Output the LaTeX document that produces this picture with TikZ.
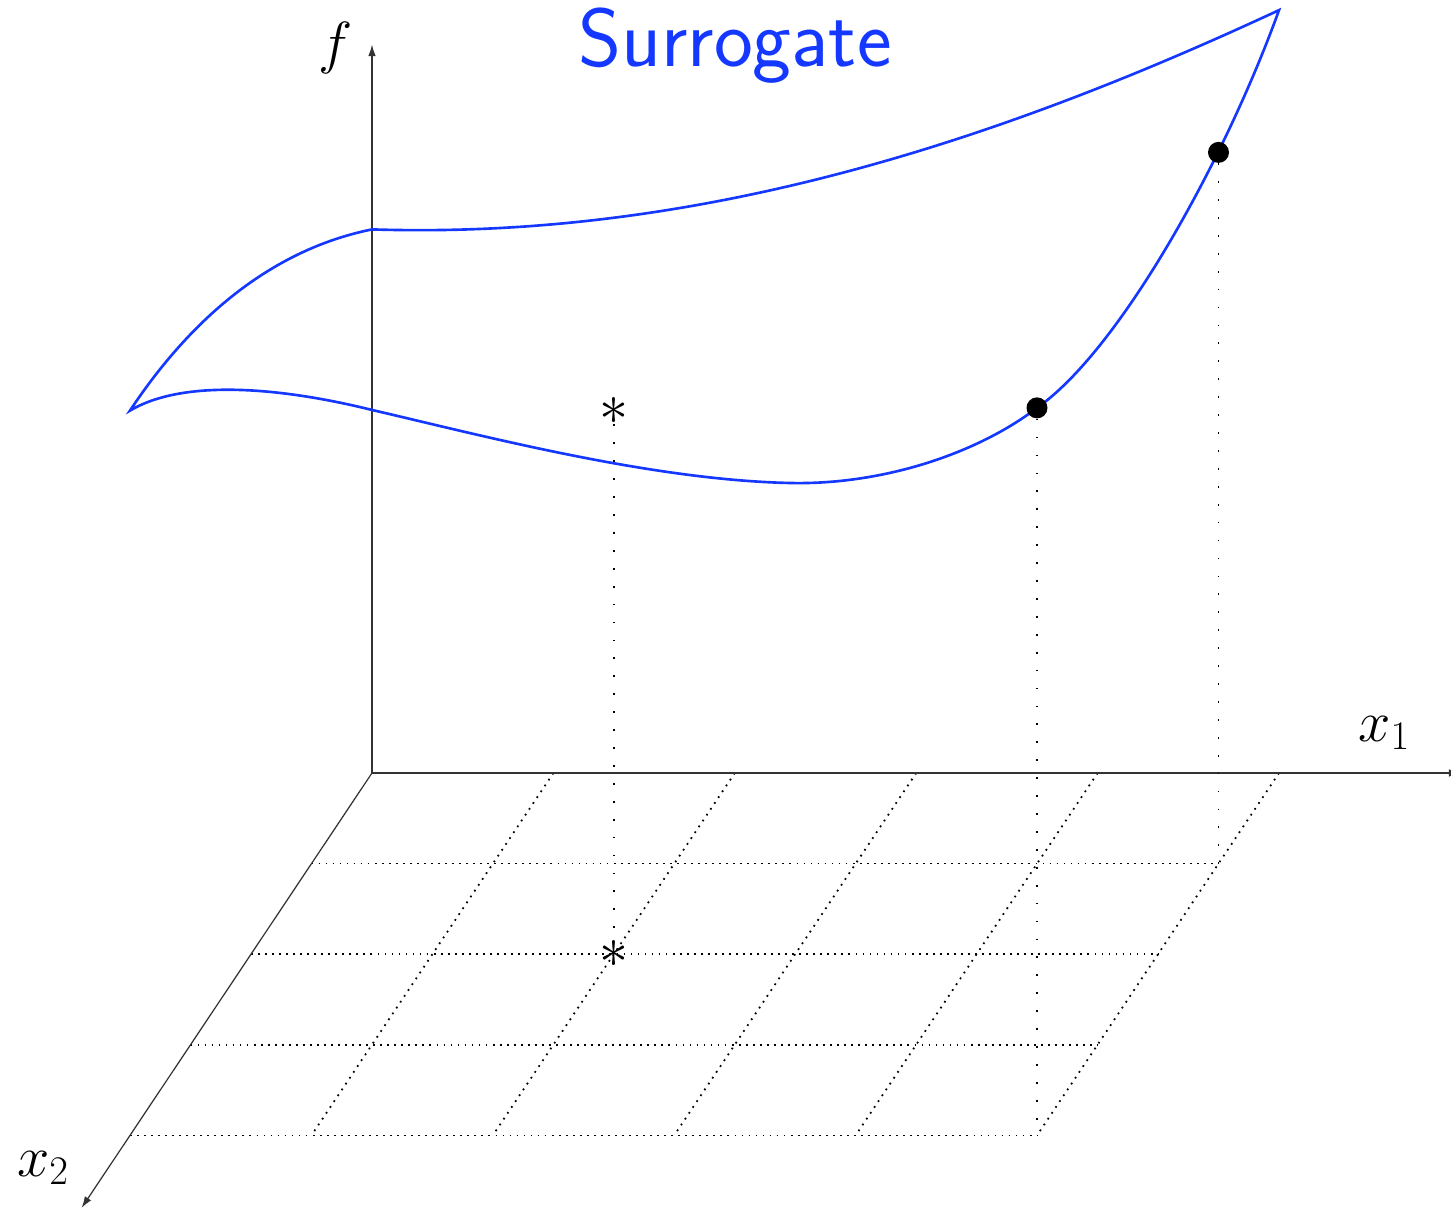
\documentclass[tikz,border=0pt]{standalone}
\usepackage{fix-cm}
\usepackage{amsmath,amssymb}
\usepackage{xcolor}
\usepackage{tikz}
\usetikzlibrary{arrows.meta}
\definecolor{surfc}{HTML}{1438FF}
\definecolor{axc}{HTML}{333333}
\tikzset{
  ax/.style={-{Latex[length=2.3mm,width=1.5mm]},line width=0.7pt,axc},
  gridln/.style={line width=1pt,dash pattern=on 1pt off 3pt},
  drop/.style={line width=1pt,dash pattern=on 1pt off 9.2pt},
  surf/.style={surfc,line width=1.5pt},
  lbl/.style={font=\fontsize{33}{40}\selectfont,inner sep=0pt},
  smp/.style={fill=black,circle,inner sep=0pt,minimum size=4.2mm}
}

\begin{document}
\begin{tikzpicture}[x={(3.628cm,0cm)},y={(-1.21cm,-1.812cm)},z={(0cm,1.812cm)}]
\useasboundingbox (-7.44cm,-8.72cm) rectangle (21.58cm,15.46cm);
% design grid
\foreach \j in {1,...,4} \draw[gridln] (0,\j,0) -- (5,\j,0);
\foreach \i in {1,...,5} \draw[gridln] (\i,0,0) -- (\i,4,0);
% axes
\coordinate (O) at (0,0,0);
\coordinate (x1end) at (6.0,0,0);
\coordinate (x2end) at (0,4.8,0);
\coordinate (fend) at (0,0,8.04);
\draw[ax] (O) -- (x1end);
\draw[ax] (O) -- (x2end);
\draw[ax] (O) -- (fend);
\node[lbl] (flab) at (-0.2,0,8.0) {$f$};
\node[lbl] (x1lab) at (5.58,0,0.44) {$x_1$};
\node[lbl] (x2lab) at (-0.36,4.36,0) {$x_2$};
% surrogate surface
\coordinate (s00) at (0,0,6);
\coordinate (s50) at (5,0,8.42);
\coordinate (s54) at (5,4,8.03);
\coordinate (s04) at (0,4,8);
\draw[surf] (s00) .. controls (1.808,0,5.883) and (3.462,0,6.987) .. (s50)
  .. controls (5,0.893,7.66) and (5,2.628,7.30) .. (s54)
  .. controls (4.658,4,7.509) and (4.134,4,7.178) .. (3.638,4,7.201)
  .. controls (2.867,4,7.234) and (1.929,4,7.731) .. (1.334,4,8.007)
  .. controls (0.937,4,8.205) and (0.331,4,8.393) .. (s04)
  .. controls (0,3.008,8.008) and (0,1.686,7.458) .. cycle;
\node[font=\fontsize{47}{56}\selectfont\sffamily,text=surfc] (title) at (2,0,8.03) {Surrogate};
% samples and candidate
\node[smp] (p1) at (s54) {};
\node[smp] (p2) at (5,1,7.85) {};
\coordinate (p1b) at (5,4,0);
\coordinate (p2b) at (5,1,0);
\node[lbl] (cand) at (2,2,6) {$*$};
\node[lbl] (candb) at (2,2,0) {$*$};
\draw[drop] (p1) -- (p1b);
\draw[drop] (p2) -- (p2b);
\draw[drop] (cand) -- (candb);
\end{tikzpicture}
\end{document}
